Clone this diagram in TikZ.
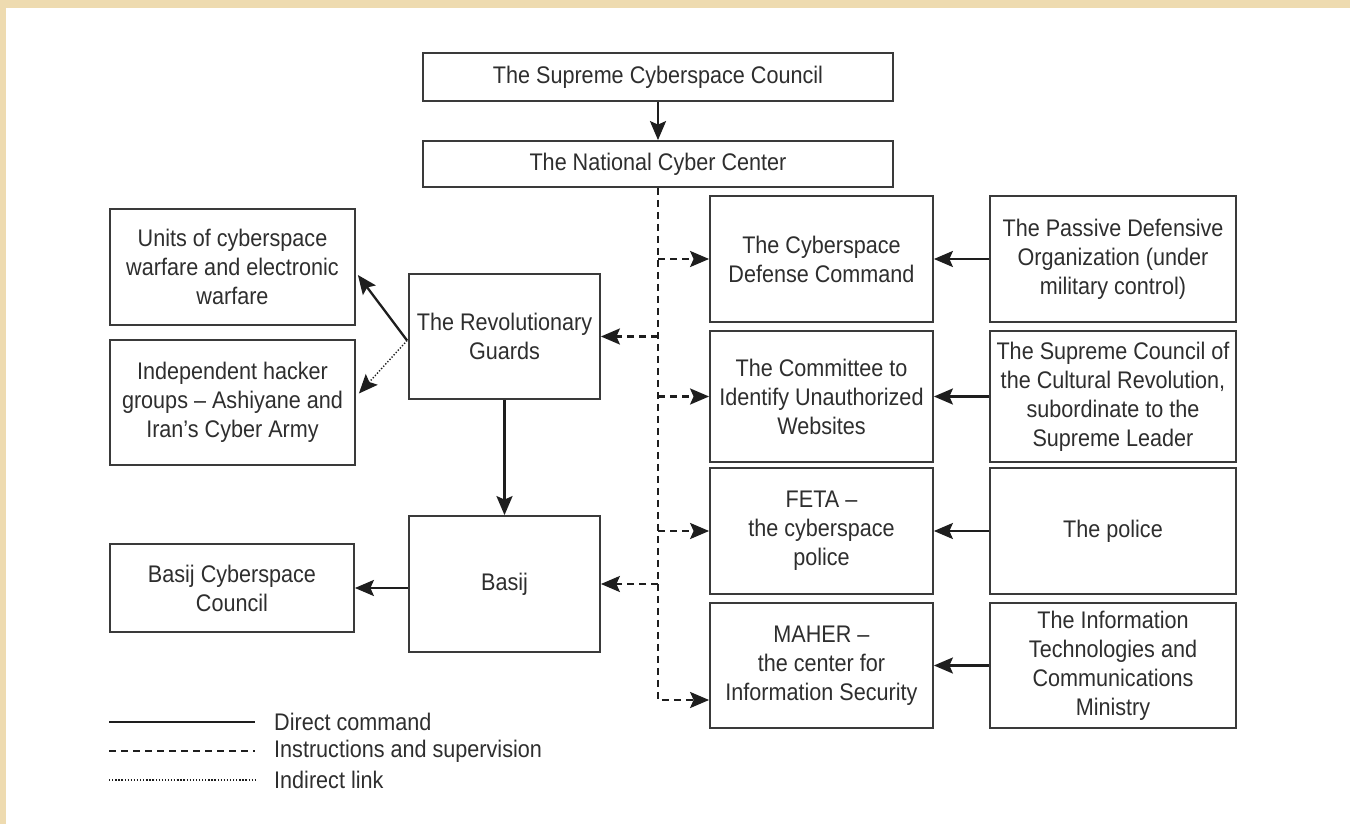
\documentclass[tikz,border=0pt]{standalone}
\usepackage{fontspec}
\setmainfont{Liberation Sans}[FakeStretch=0.9]
\usetikzlibrary{arrows.meta,calc}
\definecolor{parch}{HTML}{EEDBB0}
\definecolor{ink}{HTML}{1E1E1E}
\definecolor{boxline}{HTML}{3A3A3A}
\definecolor{txt}{HTML}{2E2E2E}
\begin{document}
\begin{tikzpicture}[x=1pt,y=-1pt,
  box/.style={draw=boxline, line width=1.8pt, fill=white, inner sep=0pt, align=center, text=txt, font=\fontsize{24}{29}\selectfont},
  tip/.style={-{Stealth[length=19pt,width=16pt,inset=3.5pt]}},
  cmd/.style={draw=ink, line width=2.3pt, tip},
  supv/.style={draw=ink, line width=2.3pt, dash pattern=on 7pt off 5pt, tip},
  ind/.style={draw=ink, line width=1.4pt, dash pattern=on 1.3pt off 1.8pt, tip},
  legtext/.style={anchor=west, inner sep=0pt, text=txt, font=\fontsize{24}{29}\selectfont}
]
\fill[parch] (0,0) rectangle (1350,824);
\fill[white] (6,8) rectangle (1350,824);
\useasboundingbox (0,0) rectangle (1350,824);

% top
\node[box, minimum width=470pt, minimum height=48pt] (sup) at (658,77) {The Supreme Cyberspace Council};
\node[box, minimum width=470pt, minimum height=46pt] (ncc) at (658,164) {The National Cyber Center};

% left column
\node[box, minimum width=245pt, minimum height=116pt] (units) at (232.5,267) {Units of cyberspace\\warfare and electronic\\warfare};
\node[box, minimum width=245pt, minimum height=125pt] (indep) at (232.5,402.5) {Independent hacker\\groups – Ashiyane and\\Iran’s Cyber Army};
\node[box, minimum width=244pt, minimum height=88pt] (bcc) at (232,588) {Basij Cyberspace\\Council};

% middle column
\node[box, minimum width=191pt, minimum height=125pt] (rg) at (504.5,336.5) {The Revolutionary\\Guards};
\node[box, minimum width=191pt, minimum height=136pt] (basij) at (504.5,584) {Basij};

% right-middle column
\node[box, minimum width=223pt, minimum height=126pt] (cdc) at (821.5,259) {The Cyberspace\\Defense Command};
\node[box, minimum width=223pt, minimum height=131pt] (cte) at (821.5,396.5) {The Committee to\\Identify Unauthorized\\Websites};
\node[box, minimum width=223pt, minimum height=126pt] (feta) at (821.5,531) {FETA –\\the cyberspace\\police};
\node[box, minimum width=223pt, minimum height=125pt] (maher) at (821.5,665.5) {MAHER –\\the center for\\Information Security};

% right column
\node[box, minimum width=246pt, minimum height=126pt] (pdo) at (1113,259) {The Passive Defensive\\Organization (under\\military control)};
\node[box, minimum width=246pt, minimum height=131pt] (scr) at (1113,396.5) {The Supreme Council of\\the Cultural Revolution,\\subordinate to the\\Supreme Leader};
\node[box, minimum width=246pt, minimum height=126pt] (pol) at (1113,531) {The police};
\node[box, minimum width=246pt, minimum height=125pt] (itc) at (1113,665.5) {The Information\\Technologies and\\Communications\\Ministry};

% direct command
\draw[cmd] (sup.south) -- (ncc.north);
\draw[cmd] (rg.south) -- (basij.north);
\draw[cmd] (basij.west |- bcc.east) -- (bcc.east);
\draw[cmd] (pdo.west) -- (cdc.east);
\draw[cmd] (scr.west) -- (cte.east);
\draw[cmd] (pol.west) -- (feta.east);
\draw[cmd] (itc.west) -- (maher.east);
\coordinate (rgl) at ($(rg.west)+(-1,4)$);
\draw[cmd] (rgl) -- ($(units.east)+(2,8)$);
\draw[ind] (rgl) -- ($(indep.east)+(3,-9)$);

% instructions and supervision
\coordinate (tend) at (658,700);
\draw[supv] (ncc.south) -- (tend) -- (tend -| maher.west);
\draw[supv] (ncc.south |- cdc.west) -- (cdc.west);
\draw[supv] (ncc.south |- rg.east) -- (rg.east);
\draw[supv] (ncc.south |- cte.west) -- (cte.west);
\draw[supv] (ncc.south |- feta.west) -- (feta.west);
\draw[supv] (ncc.south |- basij.east) -- (basij.east);

% legend
\coordinate (l1a) at (109,722); \coordinate (l1b) at (255,722);
\coordinate (l2a) at (109,751); \coordinate (l2b) at (255,751);
\coordinate (l3a) at (109,780); \coordinate (l3b) at (255,780);
\draw[draw=ink, line width=2.3pt] (l1a) -- (l1b);
\draw[draw=ink, line width=2.3pt, dash pattern=on 7pt off 5pt] (l2a) -- (l2b);
\draw[draw=ink, line width=1.2pt, dash pattern=on 1.3pt off 1.8pt] (l3a) -- (l3b);
\node[legtext] (t1) at (274,722) {Direct command};
\node[legtext] (t2) at (274,751) {Instructions and supervision};
\node[legtext] (t3) at (274,780) {Indirect link};
\end{tikzpicture}
\end{document}
